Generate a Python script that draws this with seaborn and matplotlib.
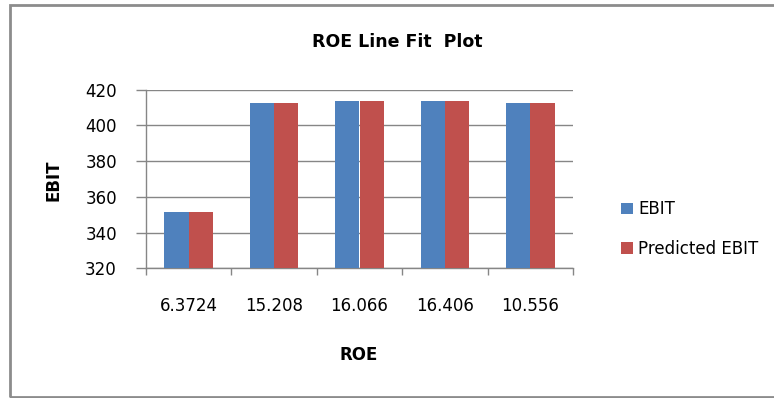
import matplotlib
matplotlib.use("Agg")
import matplotlib.pyplot as plt
from matplotlib.patches import Rectangle
import pandas as pd
import seaborn as sns

# ROE categories and EBIT values (actual vs fitted)
roe_labels = ["6.3724", "15.208", "16.066", "16.406", "10.556"]
ebit = [351.6, 412.4, 413.6, 413.6, 412.4]
predicted_ebit = [351.6, 412.4, 413.6, 413.6, 412.4]
series_names = ["EBIT", "Predicted EBIT"]
y_ticks = [320, 340, 360, 380, 400, 420]

df = pd.DataFrame({
    "ROE": roe_labels * 2,
    "value": ebit + predicted_ebit,
    "series": [series_names[0]] * len(roe_labels) + [series_names[1]] * len(roe_labels),
})

sns.set_theme(style="white")
plt.rcParams["font.family"] = ["DejaVu Sans"]
plt.rcParams["text.color"] = "#000000"

W, H = 774, 398
FS = 12
fig = plt.figure(figsize=(W / 100, H / 100), dpi=100)
ax = fig.add_axes([146 / W, 1 - 268.3 / H, (573 - 146) / W, (268.3 - 89.7) / H])

sns.barplot(data=df, x="ROE", y="value", hue="series", order=roe_labels,
            palette=["#4F81BD", "#C0504D"], saturation=1, width=0.57, gap=0,
            linewidth=0, ax=ax, zorder=3, legend=True)

ax.set_ylim(320, 420)
ax.set_xlim(-0.5, len(roe_labels) - 0.5)
ax.set_yticks(y_ticks)
ax.set_yticklabels([str(v) for v in y_ticks], fontsize=FS, color="#000000")
ax.yaxis.grid(True, color="#868686", linewidth=1, zorder=0)
ax.set_axisbelow(True)

# category boundaries carry tick marks, centres carry labels
ax.set_xticks([i - 0.5 for i in range(len(roe_labels) + 1)])
ax.set_xticklabels([])
ax.set_xticks(range(len(roe_labels)), minor=True)
ax.set_xticklabels(roe_labels, minor=True, fontsize=FS, color="#000000")
ax.tick_params(axis="x", which="major", length=5, width=1, color="#868686", direction="out", bottom=True)
ax.tick_params(axis="x", which="minor", length=0, pad=21)
ax.tick_params(axis="y", length=7, width=1, color="#868686", direction="out", left=True, pad=14)

for side in ["top", "right"]:
    ax.spines[side].set_visible(False)
for side in ["left", "bottom"]:
    ax.spines[side].set_color("#868686")
    ax.spines[side].set_linewidth(1)

ax.set_xlabel("")
ax.set_ylabel("")
fig.text(397 / W, 1 - 42 / H, "ROE Line Fit  Plot", ha="center", va="center",
         fontsize=12.5, fontweight="bold", color="#000000")
fig.text(359 / W, 1 - 355 / H, "ROE", ha="center", va="center",
         fontsize=FS, fontweight="bold", color="#000000")
fig.text(54 / W, 1 - 180 / H, "EBIT", ha="center", va="center", rotation=90,
         fontsize=FS, fontweight="bold", color="#000000")

handles, labels = ax.get_legend_handles_labels()
leg = ax.legend(handles, labels, loc="center left", bbox_to_anchor=(613 / W, 1 - 229 / H),
                bbox_transform=fig.transFigure, frameon=False, fontsize=FS,
                handlelength=0.7, handleheight=0.7, handletextpad=0.3, labelspacing=1.3,
                borderpad=0)
for t in leg.get_texts():
    t.set_color("#000000")

# outer chart border
fig.patches.append(Rectangle((9.5 / W, 1.5 / H), (W + 5) / W, (393.5 - 1.5) / H,
                             transform=fig.transFigure, fill=False,
                             edgecolor="#8C8C8C", linewidth=2))

fig.savefig("out.png", dpi=100)
